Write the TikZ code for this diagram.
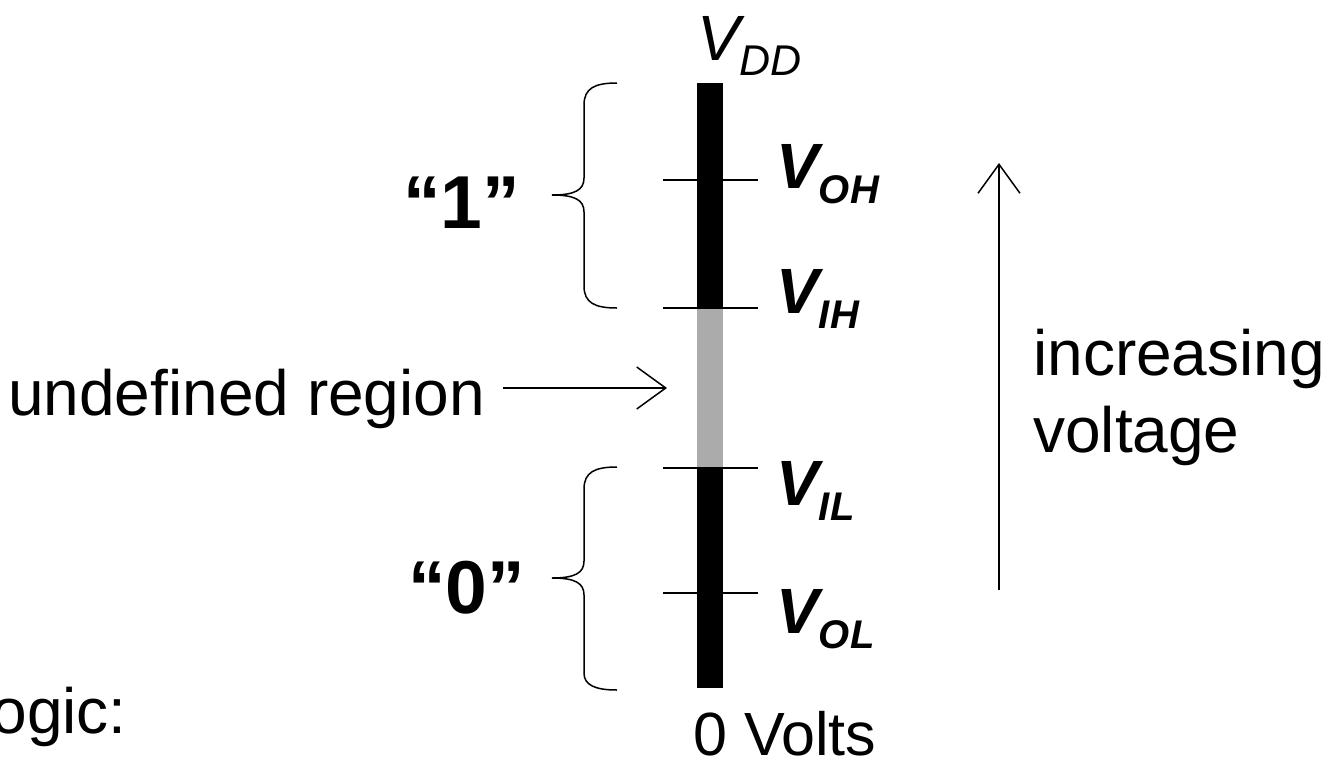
\documentclass[tikz,border=0pt]{standalone}
\usepackage{fontspec}
\setmainfont{Liberation Sans}
\usetikzlibrary{arrows.meta}
\newcommand\lsub[2]{\raisebox{-15pt}{\fontsize{#1}{#1}\selectfont #2}}
\begin{document}
\begin{tikzpicture}[x=1pt,y=-1pt,
  txt/.style={inner sep=0pt, anchor=base west, font=\fontsize{64}{77}\selectfont},
  lbl/.style={inner sep=0pt, anchor=base west, font=\fontsize{64}{77}\selectfont\bfseries\itshape},
  qlbl/.style={inner sep=0pt, anchor=base west, font=\fontsize{75}{80}\selectfont\bfseries},
  tickline/.style={line width=2pt},
  arr/.style={line width=1.5pt, -{Straight Barb[length=29pt,width=42pt,line width=1.5pt]}},
  bracepath/.style={line width=1.5pt}
]
\useasboundingbox (0,0) rectangle (1326,761);
\fill[white] (0,0) rectangle (1326,761);

% voltage bar
\fill[black] (697,83) rectangle (723,308);
\fill[black!33] (697,308) rectangle (723,468);
\fill[black] (697,468) rectangle (723,688);

% ticks
\draw[tickline] (663,180) -- (758,180);
\draw[tickline] (663,308) -- (758,308);
\draw[tickline] (663,468) -- (758,468);
\draw[tickline] (663,593) -- (758,593);

% labels
\node[txt, font=\fontsize{64}{77}\selectfont\itshape] (vdd) at (697,60) {V\lsub{43}{DD}};
\node[lbl] (voh) at (776,188) {V\lsub{40}{OH}};
\node[lbl] (vih) at (776,313) {V\lsub{40}{IH}};
\node[lbl] (vil) at (776,505) {V\lsub{40}{IL}};
\node[lbl] (vol) at (776,633) {V\lsub{40}{OL}};
\node[txt, font=\fontsize{61}{70}\selectfont] (zero) at (693,755) {0 Volts};

% logic levels
\node[qlbl] (one) at (403,228) {“1”};
\node[qlbl] (nul) at (408,613) {“0”};

% braces
\draw[bracepath] (617,83) .. controls (595,83) and (584,88) .. (584,105) -- (584,178)
  .. controls (584,190) and (575,195) .. (552,195)
  .. controls (575,195) and (584,200) .. (584,212) -- (584,286)
  .. controls (584,303) and (595,308) .. (617,308);
\draw[bracepath] (617,467) .. controls (595,467) and (584,472) .. (584,489) -- (584,561)
  .. controls (584,573) and (575,578) .. (552,578)
  .. controls (575,578) and (584,583) .. (584,595) -- (584,673)
  .. controls (584,685) and (595,690) .. (617,690);

% undefined region
\node[txt] (undef) at (8,415) {undefined region};
\coordinate (ua) at (503,388);
\coordinate (ub) at (667,388);
\draw[arr] (ua) -- (ub);

% increasing voltage
\coordinate (va) at (999,590);
\coordinate (vb) at (999,163);
\draw[arr] (va) -- (vb);
\node[txt] (inc) at (1033,375) {increasing};
\node[txt] (volt) at (1033,452) {voltage};

% cut-off text
\node[txt, anchor=base east] (logic) at (127,733) {ogic:};
\end{tikzpicture}
\end{document}
